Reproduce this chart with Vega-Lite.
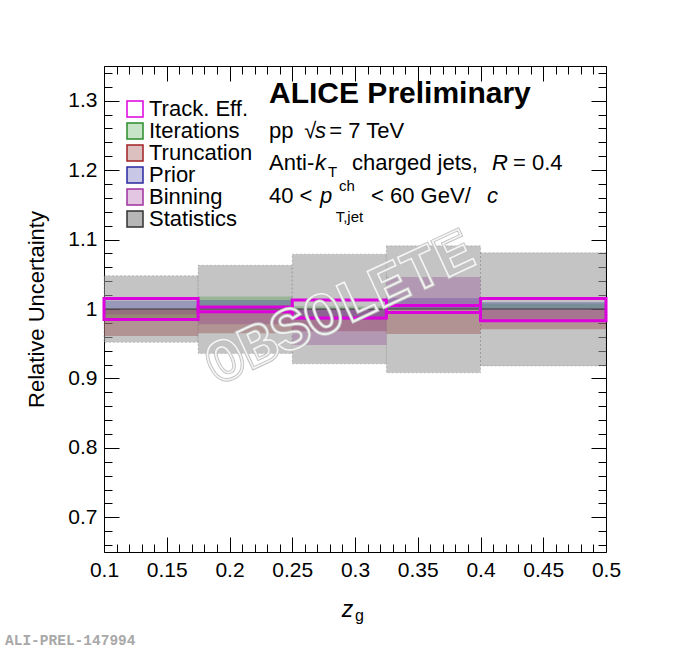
{
  "$schema": "https://vega.github.io/schema/vega-lite/v6.json",
  "width": 502,
  "height": 486,
  "autosize": {"type": "none"},
  "padding": {"left": 104, "top": 66, "right": 71, "bottom": 99},
  "background": "white",
  "datasets": {
    "bands": [
      {"z0": 0.1, "z1": 0.175, "lo": 0.952, "hi": 1.048, "source": "Statistics"},
      {"z0": 0.175, "z1": 0.25, "lo": 0.936, "hi": 1.063, "source": "Statistics"},
      {"z0": 0.25, "z1": 0.325, "lo": 0.921, "hi": 1.079, "source": "Statistics"},
      {"z0": 0.325, "z1": 0.4, "lo": 0.908, "hi": 1.091, "source": "Statistics"},
      {"z0": 0.4, "z1": 0.5, "lo": 0.918, "hi": 1.081, "source": "Statistics"},
      {"z0": 0.1, "z1": 0.175, "lo": 0.986, "hi": 1.0, "source": "Iterations"},
      {"z0": 0.175, "z1": 0.25, "lo": 1.0, "hi": 1.018, "source": "Iterations"},
      {"z0": 0.25, "z1": 0.325, "lo": 1.0, "hi": 1.004, "source": "Iterations"},
      {"z0": 0.325, "z1": 0.4, "lo": 1.0, "hi": 1.004, "source": "Iterations"},
      {"z0": 0.4, "z1": 0.5, "lo": 1.0, "hi": 1.008, "source": "Iterations"},
      {"z0": 0.1, "z1": 0.175, "lo": 0.961, "hi": 1.0, "source": "Truncation"},
      {"z0": 0.175, "z1": 0.25, "lo": 0.965, "hi": 1.0, "source": "Truncation"},
      {"z0": 0.25, "z1": 0.325, "lo": 0.968, "hi": 1.0, "source": "Truncation"},
      {"z0": 0.325, "z1": 0.4, "lo": 0.964, "hi": 1.0, "source": "Truncation"},
      {"z0": 0.4, "z1": 0.5, "lo": 0.971, "hi": 1.0, "source": "Truncation"},
      {"z0": 0.1, "z1": 0.175, "lo": 1.0, "hi": 1.012, "source": "Prior"},
      {"z0": 0.175, "z1": 0.25, "lo": 1.0, "hi": 1.013, "source": "Prior"},
      {"z0": 0.25, "z1": 0.325, "lo": 0.985, "hi": 1.0, "source": "Prior"},
      {"z0": 0.325, "z1": 0.4, "lo": 1.0, "hi": 1.016, "source": "Prior"},
      {"z0": 0.4, "z1": 0.5, "lo": 1.0, "hi": 1.01, "source": "Prior"},
      {"z0": 0.1, "z1": 0.175, "lo": 0.992, "hi": 1.0, "source": "Binning"},
      {"z0": 0.175, "z1": 0.25, "lo": 0.978, "hi": 1.0, "source": "Binning"},
      {"z0": 0.25, "z1": 0.325, "lo": 0.948, "hi": 1.0, "source": "Binning"},
      {"z0": 0.325, "z1": 0.4, "lo": 1.0, "hi": 1.046, "source": "Binning"},
      {"z0": 0.4, "z1": 0.5, "lo": 0.984, "hi": 1.0, "source": "Binning"},
      {"z0": 0.1, "z1": 0.175, "lo": 0.985, "hi": 1.015, "source": "Track. Eff."},
      {"z0": 0.175, "z1": 0.25, "lo": 0.996, "hi": 1.003, "source": "Track. Eff."},
      {"z0": 0.25, "z1": 0.325, "lo": 0.987, "hi": 1.013, "source": "Track. Eff."},
      {"z0": 0.325, "z1": 0.4, "lo": 0.995, "hi": 1.005, "source": "Track. Eff."},
      {"z0": 0.4, "z1": 0.5, "lo": 0.983, "hi": 1.015, "source": "Track. Eff."}
    ]
  },
  "resolve": {"axis": {"x": "independent", "y": "independent"}, "scale": {"fill": "independent", "stroke": "independent"}},
  "layer": [
    {
      "data": {"values": [{}]},
      "mark": {"type": "point", "opacity": 0},
      "encoding": {
        "x": {"datum": 0.3, "type": "quantitative",
          "scale": {"domain": [0.1, 0.5], "nice": false, "zero": false},
          "axis": {"orient": "bottom", "values": [0.1, 0.15, 0.2, 0.25, 0.3, 0.35, 0.4, 0.45, 0.5], "format": "~g",
            "tickSize": -15, "labelPadding": 22, "labelFlush": false, "labelOverlap": false, "title": null}},
        "y": {"datum": 1, "type": "quantitative",
          "scale": {"domain": [0.65, 1.35], "nice": false, "zero": false},
          "axis": {"orient": "left", "values": [0.7, 0.8, 0.9, 1, 1.1, 1.2, 1.3], "format": "~g",
            "tickSize": -15, "labelPadding": 22, "labelOverlap": false,
            "title": "Relative Uncertainty", "titleFontSize": 22, "titleFontWeight": "normal", "titlePadding": 19}}
      }
    },
    {
      "data": {"values": [{}]},
      "mark": {"type": "point", "opacity": 0},
      "encoding": {
        "x": {"datum": 0.3, "type": "quantitative",
          "axis": {"orient": "bottom", "values": [0.11, 0.12, 0.13, 0.14, 0.16, 0.17, 0.18, 0.19, 0.21, 0.22, 0.23, 0.24, 0.26, 0.27, 0.28, 0.29, 0.31, 0.32, 0.33, 0.34, 0.36, 0.37, 0.38, 0.39, 0.41, 0.42, 0.43, 0.44, 0.46, 0.47, 0.48, 0.49],
            "tickSize": -8, "labels": false, "domain": false, "title": null}},
        "y": {"datum": 1, "type": "quantitative",
          "axis": {"orient": "left", "values": [0.66, 0.68, 0.72, 0.74, 0.76, 0.78, 0.82, 0.84, 0.86, 0.88, 0.92, 0.94, 0.96, 0.98, 1.02, 1.04, 1.06, 1.08, 1.12, 1.14, 1.16, 1.18, 1.22, 1.24, 1.26, 1.28, 1.32, 1.34],
            "tickSize": -8, "labels": false, "domain": false, "title": null}}
      }
    },
    {
      "data": {"values": [{}]},
      "mark": {"type": "point", "opacity": 0},
      "encoding": {
        "x": {"datum": 0.3, "type": "quantitative",
          "axis": {"orient": "top", "values": [0.1, 0.15, 0.2, 0.25, 0.3, 0.35, 0.4, 0.45, 0.5],
            "tickSize": -15, "labels": false, "title": null}},
        "y": {"datum": 1, "type": "quantitative",
          "axis": {"orient": "right", "values": [0.7, 0.8, 0.9, 1, 1.1, 1.2, 1.3],
            "tickSize": -15, "labels": false, "title": null}}
      }
    },
    {
      "data": {"values": [{}]},
      "mark": {"type": "point", "opacity": 0},
      "encoding": {
        "x": {"datum": 0.3, "type": "quantitative",
          "axis": {"orient": "top", "values": [0.11, 0.12, 0.13, 0.14, 0.16, 0.17, 0.18, 0.19, 0.21, 0.22, 0.23, 0.24, 0.26, 0.27, 0.28, 0.29, 0.31, 0.32, 0.33, 0.34, 0.36, 0.37, 0.38, 0.39, 0.41, 0.42, 0.43, 0.44, 0.46, 0.47, 0.48, 0.49],
            "tickSize": -8, "labels": false, "domain": false, "title": null}},
        "y": {"datum": 1, "type": "quantitative",
          "axis": {"orient": "right", "values": [0.66, 0.68, 0.72, 0.74, 0.76, 0.78, 0.82, 0.84, 0.86, 0.88, 0.92, 0.94, 0.96, 0.98, 1.02, 1.04, 1.06, 1.08, 1.12, 1.14, 1.16, 1.18, 1.22, 1.24, 1.26, 1.28, 1.32, 1.34],
            "tickSize": -8, "labels": false, "domain": false, "title": null}}
      }
    },
    {
      "data": {"name": "bands"},
      "transform": [{"filter": "false"}],
      "mark": {"type": "rect", "strokeWidth": 1.5},
      "encoding": {
        "x": {"field": "z0", "type": "quantitative", "axis": null},
        "x2": {"field": "z1"},
        "y": {"field": "lo", "type": "quantitative", "axis": null},
        "y2": {"field": "hi"},
        "fill": {"field": "source", "type": "nominal",
          "scale": {"domain": ["Track. Eff.", "Iterations", "Truncation", "Prior", "Binning", "Statistics"],
            "range": ["white", "#c8e4c8", "#dcc0c0", "#c8c8e6", "#e2c6e2", "#b6b6b6"]},
          "legend": {"orient": "none", "legendX": 20, "legendY": 32, "title": null}},
        "stroke": {"field": "source", "type": "nominal",
          "scale": {"domain": ["Track. Eff.", "Iterations", "Truncation", "Prior", "Binning", "Statistics"],
            "range": ["#e000e0", "#2a8c2a", "#a02020", "#2828a0", "#a030a0", "#303030"]},
          "legend": {"orient": "none", "legendX": 20, "legendY": 32, "title": null}}
      }
    },
    {
      "data": {"name": "bands"},
      "transform": [{"filter": "datum.source === 'Statistics'"}],
      "mark": {"type": "rect", "fill": "#999999", "fillOpacity": 0.58, "stroke": "#303030", "strokeWidth": 0.8, "strokeDash": [2, 2], "strokeOpacity": 0.25},
      "encoding": {
        "x": {"field": "z0", "type": "quantitative", "axis": null},
        "x2": {"field": "z1"},
        "y": {"field": "lo", "type": "quantitative", "axis": null},
        "y2": {"field": "hi"}
      }
    },
    {
      "data": {"name": "bands"},
      "transform": [{"filter": "datum.source !== 'Statistics' && datum.source !== 'Track. Eff.'"}],
      "mark": {"type": "rect", "fillOpacity": 0.32, "strokeWidth": 0},
      "encoding": {
        "x": {"field": "z0", "type": "quantitative", "axis": null},
        "x2": {"field": "z1"},
        "y": {"field": "lo", "type": "quantitative", "axis": null},
        "y2": {"field": "hi"},
        "fill": {"field": "source", "type": "nominal", "legend": null,
          "scale": {"domain": ["Iterations", "Truncation", "Prior", "Binning"],
            "range": ["#3c963c", "#8c2a2a", "#3c3ca0", "#8f3c8f"]}}
      }
    },
    {
      "data": {"name": "bands"},
      "transform": [{"filter": "datum.source === 'Statistics'"}],
      "mark": {"type": "rule", "color": "#3a3a3a", "strokeWidth": 1},
      "encoding": {
        "x": {"field": "z0", "type": "quantitative", "axis": null},
        "x2": {"field": "z1"},
        "y": {"datum": 1, "type": "quantitative", "axis": null}
      }
    },
    {
      "data": {"name": "bands"},
      "transform": [{"filter": "datum.source === 'Track. Eff.'"}],
      "mark": {"type": "rect", "strokeWidth": 3, "fill": null, "stroke": "#dc00dc"},
      "encoding": {
        "x": {"field": "z0", "type": "quantitative", "axis": null},
        "x2": {"field": "z1"},
        "y": {"field": "lo", "type": "quantitative", "axis": null},
        "y2": {"field": "hi"}
      }
    },
    {
      "data": {"values": [{}]},
      "mark": {"type": "text", "font": "Liberation Mono", "fontWeight": "bold", "fontSize": 60, "angle": 335,
        "align": "center", "baseline": "middle", "fill": "transparent", "stroke": "#c2c2c2", "strokeWidth": 3.5},
      "encoding": {
        "x": {"datum": 0.288, "type": "quantitative", "axis": null},
        "y": {"datum": 1.0014, "type": "quantitative", "axis": null},
        "text": {"value": "OBSOLETE"}
      }
    },
    {
      "data": {"values": [{}]},
      "mark": {"type": "text", "font": "Liberation Mono", "fontWeight": "bold", "fontSize": 60, "angle": 335,
        "align": "center", "baseline": "middle", "fill": "transparent", "stroke": "#f4f4f4", "strokeWidth": 1.6},
      "encoding": {
        "x": {"datum": 0.288, "type": "quantitative", "axis": null},
        "y": {"datum": 1.0014, "type": "quantitative", "axis": null},
        "text": {"value": "OBSOLETE"}
      }
    },
    {
      "data": {"values": [{}]},
      "mark": {"type": "text", "font": "Liberation Sans", "fontWeight": "bold", "fontSize": 30, "align": "left", "baseline": "alphabetic", "color": "black"},
      "encoding": {
        "x": {"datum": 0.2315, "type": "quantitative", "axis": null},
        "y": {"datum": 1.2963, "type": "quantitative", "axis": null},
        "text": {"value": "ALICE Preliminary"}
      }
    },
    {
      "data": {"values": [{}]},
      "mark": {"type": "text", "font": "Liberation Sans", "fontSize": 22, "align": "left", "baseline": "alphabetic", "color": "black"},
      "encoding": {
        "x": {"datum": 0.2315, "type": "quantitative", "axis": null},
        "y": {"datum": 1.2459, "type": "quantitative", "axis": null},
        "text": {"value": "pp"}
      }
    },
    {
      "data": {"values": [{}]},
      "mark": {"type": "text", "font": "Liberation Sans", "fontSize": 22, "align": "left", "baseline": "alphabetic", "color": "black"},
      "encoding": {
        "x": {"datum": 0.2596, "type": "quantitative", "axis": null},
        "y": {"datum": 1.2459, "type": "quantitative", "axis": null},
        "text": {"value": "√"}
      }
    },
    {
      "data": {"values": [{}]},
      "mark": {"type": "text", "font": "Liberation Sans", "fontSize": 22, "fontStyle": "italic", "align": "left", "baseline": "alphabetic", "color": "black"},
      "encoding": {
        "x": {"datum": 0.2681, "type": "quantitative", "axis": null},
        "y": {"datum": 1.2459, "type": "quantitative", "axis": null},
        "text": {"value": "s"}
      }
    },
    {
      "data": {"values": [{}]},
      "mark": {"type": "text", "font": "Liberation Sans", "fontSize": 22, "align": "left", "baseline": "alphabetic", "color": "black"},
      "encoding": {
        "x": {"datum": 0.2795, "type": "quantitative", "axis": null},
        "y": {"datum": 1.2459, "type": "quantitative", "axis": null},
        "text": {"value": "= 7 TeV"}
      }
    },
    {
      "data": {"values": [{}]},
      "mark": {"type": "text", "font": "Liberation Sans", "fontSize": 22, "align": "left", "baseline": "alphabetic", "color": "black"},
      "encoding": {
        "x": {"datum": 0.2315, "type": "quantitative", "axis": null},
        "y": {"datum": 1.2002, "type": "quantitative", "axis": null},
        "text": {"value": "Anti-"}
      }
    },
    {
      "data": {"values": [{}]},
      "mark": {"type": "text", "font": "Liberation Sans", "fontSize": 22, "fontStyle": "italic", "align": "left", "baseline": "alphabetic", "color": "black"},
      "encoding": {
        "x": {"datum": 0.2681, "type": "quantitative", "axis": null},
        "y": {"datum": 1.2002, "type": "quantitative", "axis": null},
        "text": {"value": "k"}
      }
    },
    {
      "data": {"values": [{}]},
      "mark": {"type": "text", "font": "Liberation Sans", "fontSize": 15, "align": "left", "baseline": "alphabetic", "color": "black"},
      "encoding": {
        "x": {"datum": 0.2785, "type": "quantitative", "axis": null},
        "y": {"datum": 1.1906, "type": "quantitative", "axis": null},
        "text": {"value": "T"}
      }
    },
    {
      "data": {"values": [{}]},
      "mark": {"type": "text", "font": "Liberation Sans", "fontSize": 22, "align": "left", "baseline": "alphabetic", "color": "black"},
      "encoding": {
        "x": {"datum": 0.2976, "type": "quantitative", "axis": null},
        "y": {"datum": 1.2002, "type": "quantitative", "axis": null},
        "text": {"value": "charged jets,"}
      }
    },
    {
      "data": {"values": [{}]},
      "mark": {"type": "text", "font": "Liberation Sans", "fontSize": 22, "fontStyle": "italic", "align": "left", "baseline": "alphabetic", "color": "black"},
      "encoding": {
        "x": {"datum": 0.4092, "type": "quantitative", "axis": null},
        "y": {"datum": 1.2002, "type": "quantitative", "axis": null},
        "text": {"value": "R"}
      }
    },
    {
      "data": {"values": [{}]},
      "mark": {"type": "text", "font": "Liberation Sans", "fontSize": 22, "align": "left", "baseline": "alphabetic", "color": "black"},
      "encoding": {
        "x": {"datum": 0.4259, "type": "quantitative", "axis": null},
        "y": {"datum": 1.2002, "type": "quantitative", "axis": null},
        "text": {"value": "= 0.4"}
      }
    },
    {
      "data": {"values": [{}]},
      "mark": {"type": "text", "font": "Liberation Sans", "fontSize": 22, "align": "left", "baseline": "alphabetic", "color": "black"},
      "encoding": {
        "x": {"datum": 0.2315, "type": "quantitative", "axis": null},
        "y": {"datum": 1.1522, "type": "quantitative", "axis": null},
        "text": {"value": "40 <"}
      }
    },
    {
      "data": {"values": [{}]},
      "mark": {"type": "text", "font": "Liberation Sans", "fontSize": 22, "fontStyle": "italic", "align": "left", "baseline": "alphabetic", "color": "black"},
      "encoding": {
        "x": {"datum": 0.2721, "type": "quantitative", "axis": null},
        "y": {"datum": 1.1522, "type": "quantitative", "axis": null},
        "text": {"value": "p"}
      }
    },
    {
      "data": {"values": [{}]},
      "mark": {"type": "text", "font": "Liberation Sans", "fontSize": 15, "align": "left", "baseline": "alphabetic", "color": "black"},
      "encoding": {
        "x": {"datum": 0.2873, "type": "quantitative", "axis": null},
        "y": {"datum": 1.17, "type": "quantitative", "axis": null},
        "text": {"value": "ch"}
      }
    },
    {
      "data": {"values": [{}]},
      "mark": {"type": "text", "font": "Liberation Sans", "fontSize": 15, "align": "left", "baseline": "alphabetic", "color": "black"},
      "encoding": {
        "x": {"datum": 0.2846, "type": "quantitative", "axis": null},
        "y": {"datum": 1.1257, "type": "quantitative", "axis": null},
        "text": {"value": "T,jet"}
      }
    },
    {
      "data": {"values": [{}]},
      "mark": {"type": "text", "font": "Liberation Sans", "fontSize": 22, "align": "left", "baseline": "alphabetic", "color": "black"},
      "encoding": {
        "x": {"datum": 0.3128, "type": "quantitative", "axis": null},
        "y": {"datum": 1.1522, "type": "quantitative", "axis": null},
        "text": {"value": "< 60 GeV/"}
      }
    },
    {
      "data": {"values": [{}]},
      "mark": {"type": "text", "font": "Liberation Sans", "fontSize": 22, "fontStyle": "italic", "align": "left", "baseline": "alphabetic", "color": "black"},
      "encoding": {
        "x": {"datum": 0.4052, "type": "quantitative", "axis": null},
        "y": {"datum": 1.1522, "type": "quantitative", "axis": null},
        "text": {"value": "c"}
      }
    },
    {
      "data": {"values": [{}]},
      "mark": {"type": "text", "font": "Liberation Sans", "fontSize": 23, "fontStyle": "italic", "align": "left", "baseline": "alphabetic", "color": "black", "clip": false},
      "encoding": {
        "x": {"datum": 0.2894, "type": "quantitative", "axis": null},
        "y": {"datum": 0.5568, "type": "quantitative", "axis": null},
        "text": {"value": "z"}
      }
    },
    {
      "data": {"values": [{}]},
      "mark": {"type": "text", "font": "Liberation Sans", "fontSize": 16, "align": "left", "baseline": "alphabetic", "color": "black", "clip": false},
      "encoding": {
        "x": {"datum": 0.3, "type": "quantitative", "axis": null},
        "y": {"datum": 0.5506, "type": "quantitative", "axis": null},
        "text": {"value": "g"}
      }
    },
    {
      "data": {"values": [{}]},
      "mark": {"type": "text", "font": "Liberation Mono", "fontWeight": "bold", "fontSize": 14.5, "align": "left", "baseline": "alphabetic", "color": "#a8a8a8", "clip": false},
      "encoding": {
        "x": {"datum": 0.0211, "type": "quantitative", "axis": null},
        "y": {"datum": 0.516, "type": "quantitative", "axis": null},
        "text": {"value": "ALI-PREL-147994"}
      }
    }
  ],
  "config": {
    "view": {"stroke": null},
    "font": "Liberation Sans",
    "axis": {
      "grid": false,
      "zindex": 1,
      "domainColor": "black",
      "domainWidth": 1,
      "tickColor": "black",
      "tickWidth": 1,
      "labelColor": "black",
      "labelFont": "Liberation Sans",
      "labelFontSize": 21,
      "titleColor": "black",
      "titleFont": "Liberation Sans"
    },
    "legend": {
      "symbolType": "square",
      "symbolSize": 256,
      "symbolStrokeWidth": 1.5,
      "labelFont": "Liberation Sans",
      "labelFontSize": 22,
      "labelColor": "black",
      "labelOffset": 3,
      "labelLimit": 0,
      "rowPadding": -1,
      "padding": 0
    }
  }
}
